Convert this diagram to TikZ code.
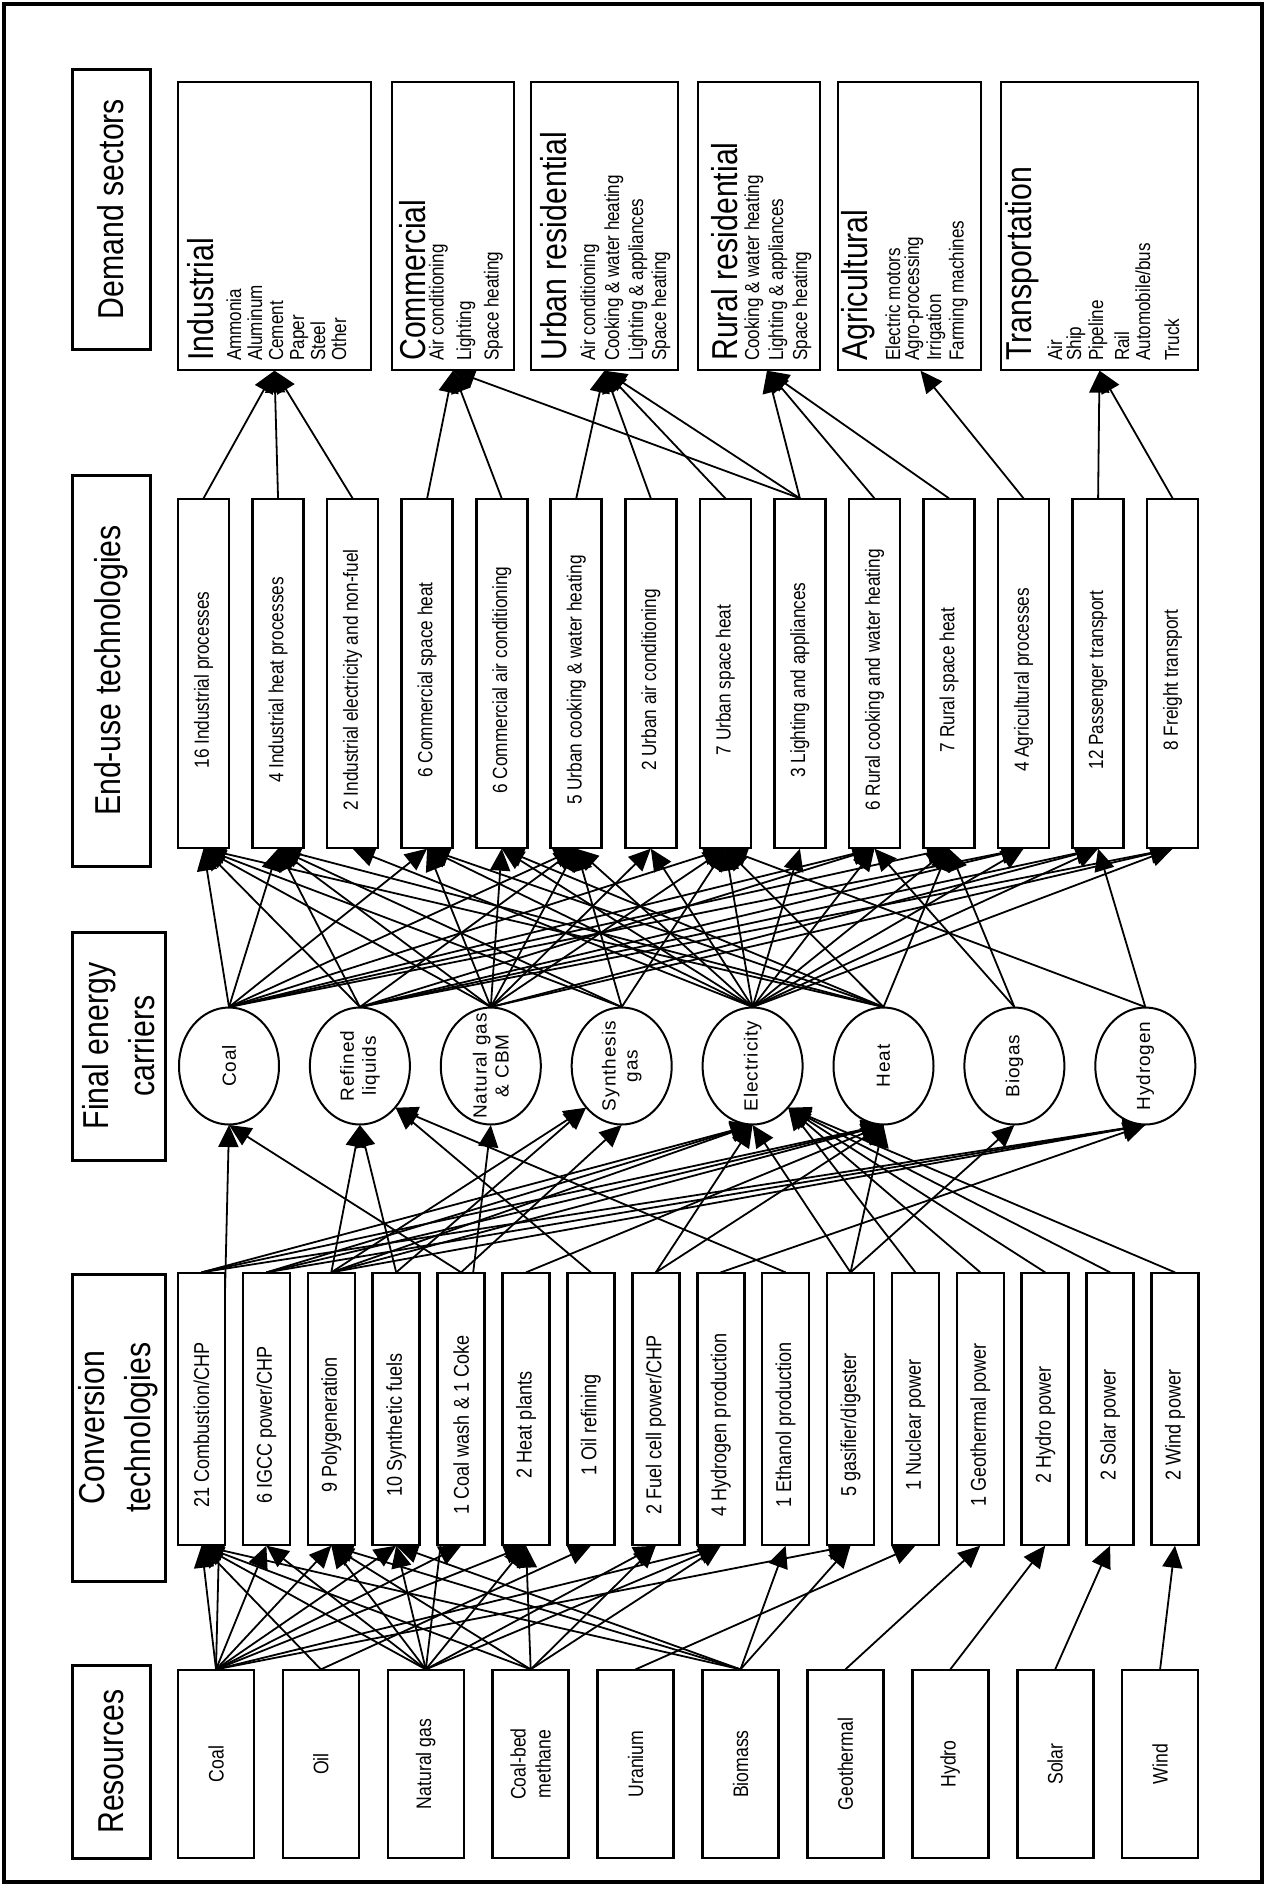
\documentclass[tikz,border=0pt]{standalone}
\usepackage{fontspec}
\setmainfont{Liberation Sans}
\newfontfamily\narf{Liberation Sans}[FakeStretch=0.84]
\newfontfamily\ellf{Liberation Sans}[LetterSpace=5]
\usetikzlibrary{arrows.meta,shapes.geometric,calc}
\pgfdeclarelayer{bg}
\pgfsetlayers{bg,main}
\begin{document}
\begin{tikzpicture}[x=1pt,y=-1pt,scale=0.5,every node/.append style={transform shape},
  bx/.style={draw, line width=1.3pt, fill=white, inner sep=0pt},
  hdr/.style={draw, line width=1.5pt, fill=white, inner sep=0pt},
  ell/.style={draw, ellipse, line width=1pt, fill=white, inner sep=0pt, minimum width=100, minimum height=117},
  arr/.style={-{Triangle[length=11pt,width=10pt]}, line width=0.9pt},
  vt/.style={rotate=90, inner sep=0pt},
  hfont/.style={font=\narf\fontsize{36}{46}\selectfont},
  dtitle/.style={font=\narf\fontsize{36}{40}\selectfont},
  ditem/.style={font=\narf\fontsize{20.3}{24}\selectfont},
  efont/.style={font=\narf\fontsize{20.5}{24}\selectfont},
  cfont/.style={font=\narf\fontsize{21.5}{25}\selectfont},
  rfont/.style={font=\narf\fontsize{21}{25}\selectfont},
  kfont/.style={font=\ellf\fontsize{19}{22}\selectfont}
]
\useasboundingbox (0,0) rectangle (1266,1886);
\draw[line width=2pt] (4,4) rectangle (1262,1882);

% headers
\node[hdr, minimum width=78, minimum height=280] (h1) at (111,209) {};
\node[vt, hfont] (th1) at (h1) {Demand sectors};
\node[hdr, minimum width=78, minimum height=391] (h2) at (111,670.5) {};
\node[vt, hfont] (th2) at (h2) {End-use technologies};
\node[hdr, minimum width=93, minimum height=228] (h3) at (118.5,1046) {};
\node[vt, hfont, align=center] (th3) at (h3) {Final energy\\carriers};
\node[hdr, minimum width=93, minimum height=307] (h4) at (118.5,1427.5) {};
\node[vt, hfont, align=center] (th4) at (h4) {Conversion\\technologies};
\node[hdr, minimum width=78, minimum height=193] (h5) at (111,1761.5) {};
\node[vt, hfont] (th5) at (h5) {Resources};

% demand sectors
\node[bx, minimum width=193, minimum height=288] (d1) at (274.5,226) {};
\node[bx, minimum width=122, minimum height=288] (d2) at (453,226) {};
\node[bx, minimum width=147, minimum height=288] (d3) at (604.5,226) {};
\node[bx, minimum width=122, minimum height=288] (d4) at (759,226) {};
\node[bx, minimum width=143, minimum height=288] (d5) at (909.5,226) {};
\node[bx, minimum width=197, minimum height=288] (d6) at (1099.5,226) {};

\node[vt, anchor=base west, dtitle] (d1t) at (213,361) {Industrial};
\foreach \x/\t [count=\n] in {241/Ammonia,262/Aluminum,283/Cement,304/Paper,325/Steel,346/Other}
  \node[vt, anchor=base west, ditem] (d1i\n) at (\x,361) {\t};
\node[vt, anchor=base west, dtitle] (d2t) at (425,361) {Commercial};
\foreach \x/\t [count=\n] in {443.5/Air conditioning,471/Lighting,498.6/Space heating}
  \node[vt, anchor=base west, ditem] (d2i\n) at (\x,361) {\t};
\node[vt, anchor=base west, dtitle] (d3t) at (566,361) {Urban residential};
\foreach \x/\t [count=\n] in {595/Air conditioning,619/{Cooking \& water heating},643/{Lighting \& appliances},666/Space heating}
  \node[vt, anchor=base west, ditem] (d3i\n) at (\x,361) {\t};
\node[vt, anchor=base west, dtitle] (d4t) at (737,361) {Rural residential};
\foreach \x/\t [count=\n] in {759/{Cooking \& water heating},783/{Lighting \& appliances},807/Space heating}
  \node[vt, anchor=base west, ditem] (d4i\n) at (\x,361) {\t};
\node[vt, anchor=base west, dtitle] (d5t) at (867,361) {Agricultural};
\foreach \x/\t [count=\n] in {900/Electric motors,919/Agro-processing,941/Irrigation,963.5/Farming machines}
  \node[vt, anchor=base west, ditem] (d5i\n) at (\x,361) {\t};
\node[vt, anchor=base west, dtitle] (d6t) at (1031,361) {Transportation};
\foreach \x/\t [count=\n] in {1062/Air,1081/Ship,1103/Pipeline,1129/Rail,1150/{Automobile/bus},1179/Truck}
  \node[vt, anchor=base west, ditem] (d6i\n) at (\x,361) {\t};

% end-use technologies
\foreach \t [count=\n] in {{16 Industrial processes},{4 Industrial heat processes},{2 Industrial electricity and non-fuel},{6 Commercial space heat},{6 Commercial air conditioning},{5 Urban cooking \& water heating},{2 Urban air conditioning},{7 Urban space heat},{3 Lighting and appliances},{6 Rural cooking and water heating},{7 Rural space heat},{4 Agricultural processes},{12 Passenger transport},{8 Freight transport}} {
  \node[bx, minimum width=51, minimum height=349] (e\n) at ({203.5+74.55*(\n-1)},673.5) {};
  \node[vt, efont] (te\n) at ({203.5+74.55*(\n-1)},680) {\t};
}

% final energy carriers
\foreach \t [count=\n] in {Coal,{Refined\\liquids},{Natural gas\\\& CBM},{Synthesis\\gas},Electricity,Heat,Biogas,Hydrogen} {
  \node[ell] (k\n) at ({229+130.9*(\n-1)},1066) {};
  \node[vt, kfont, align=center] (tk\n) at (k\n) {\t};
}

% conversion technologies
\foreach \t [count=\n] in {{21 Combustion/CHP},{6 IGCC power/CHP},{9 Polygeneration},{10 Synthetic fuels},{1 Coal wash \& 1 Coke},{2 Heat plants},{1 Oil refining},{2 Fuel cell power/CHP},{4 Hydrogen production},{1 Ethanol production},{5 gasifier/digester},{1 Nuclear power},{1 Geothermal power},{2 Hydro power},{2 Solar power},{2 Wind power}} {
  \node[bx, minimum width=47, minimum height=272] (c\n) at ({201.5+64.9*(\n-1)},1409) {};
  \node[vt, cfont] (tc\n) at ({201.5+64.9*(\n-1)},1425) {\t};
}

% resources
\foreach \t [count=\n] in {Coal,Oil,Natural gas,{Coal-bed\\methane},Uranium,Biomass,Geothermal,Hydro,Solar,Wind} {
  \node[bx, minimum width=76, minimum height=188] (r\n) at ({216+104.9*(\n-1)},1764) {};
  \node[vt, rfont, align=center] (tr\n) at (r\n) {\t};
}

\begin{pgfonlayer}{bg}
% end-use -> demand
\foreach \a/\b in {e1/d1,e2/d1,e3/d1,e4/d2,e5/d2,e9/d2,e6/d3,e7/d3,e8/d3,e9/d3,e13/d6,e14/d6}
  \draw[arr] (\a.north) -- (\b.south);
\coordinate (t4) at ($(d4.south)+(8,0)$);
\coordinate (t5) at ($(d5.south)+(11,0)$);
\foreach \a in {e9,e10,e11} \draw[arr] (\a.north) -- (t4);
\draw[arr] (e12.north) -- (t5);

% carriers -> end-use
\foreach \a/\b in {k1/e1,k1/e2,k1/e4,k1/e6,k1/e8,k1/e10,k1/e11,k1/e12,
  k2/e1,k2/e2,k2/e6,k2/e10,k2/e12,k2/e13,k2/e14,
  k3/e1,k3/e2,k3/e4,k3/e5,k3/e6,k3/e7,k3/e8,k3/e13,k3/e14,
  k4/e1,k4/e2,k4/e6,k4/e8,
  k5/e3,k5/e4,k5/e5,k5/e6,k5/e7,k5/e8,k5/e9,k5/e10,k5/e11,k5/e12,k5/e13,k5/e14,
  k6/e1,k6/e2,k6/e4,k6/e5,k6/e8,k6/e11,
  k7/e10,k7/e11,k8/e8,k8/e13}
  \draw[arr] (\a.north) -- (\b.south);

% conversion -> carriers
\foreach \a/\b in {c1/k5,c2/k5,c3/k5,c8/k5,c11/k5,
  c1/k6,c2/k6,c3/k6,c6/k6,c8/k6,c11/k6,
  c1/k8,c2/k8,c3/k8,c9/k8,
  c3/k2,c4/k2,c5/k1,c5/k4,c11/k7}
  \draw[arr] (\a.north) -- (\b.south);
\foreach \a/\b in {c3/k4,c4/k4}
  \draw[arr] (\a.north) -- (\b.south west);
\foreach \a/\b in {c7/k2,c10/k2,c12/k5,c13/k5,c14/k5,c15/k5,c16/k5}
  \draw[arr] (\a.north) -- (\b.south east);
\draw[arr] (r1.north) -- (k1.south);
\draw[arr] (r3.north) -- (k3.south);

% resources -> conversion
\foreach \a/\b in {r1/c1,r1/c2,r1/c3,r1/c4,r1/c5,r1/c6,r1/c9,r1/c11,
  r2/c1,r2/c7,
  r3/c1,r3/c2,r3/c3,r3/c4,r3/c6,r3/c8,r3/c9,
  r4/c1,r4/c3,r4/c6,r4/c8,r4/c9,
  r5/c12,
  r6/c1,r6/c3,r6/c4,r6/c10,r6/c11,
  r7/c13,r8/c14,r9/c15,r10/c16}
  \draw[arr] (\a.north) -- (\b.south);
\end{pgfonlayer}
\end{tikzpicture}
\end{document}
